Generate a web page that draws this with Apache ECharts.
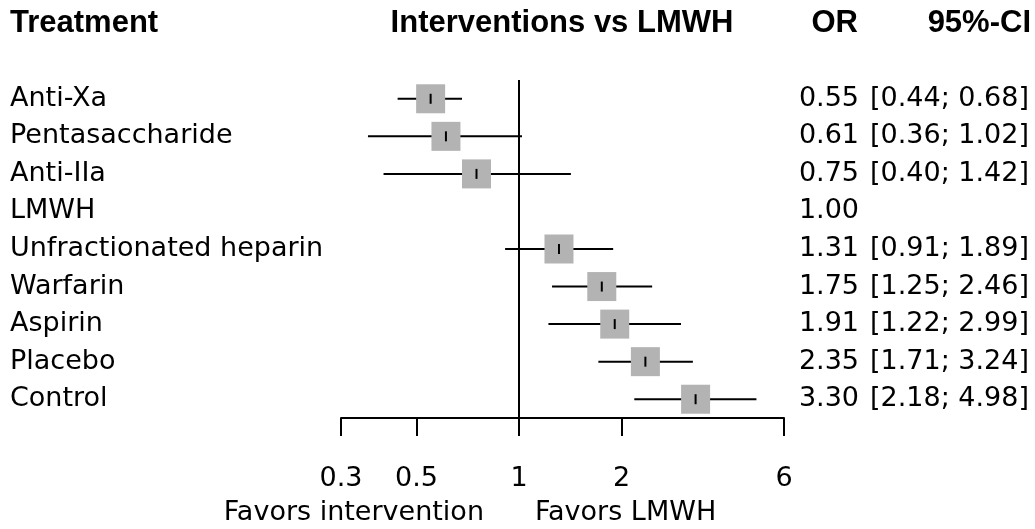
<!DOCTYPE html>
<html>
<head>
<meta charset="utf-8">
<script src="https://cdn.jsdelivr.net/npm/echarts@6/dist/echarts.min.js"></script>
<style>
  html, body { margin: 0; padding: 0; background: #fff; }
  #forest { width: 1035px; height: 529px; }
</style>
</head>
<body>
<div id="forest"></div>
<script>
// treatments, top to bottom
var treatments = ["Anti-Xa", "Pentasaccharide", "Anti-IIa", "LMWH", "Unfractionated heparin",
  "Warfarin", "Aspirin", "Placebo", "Control"];
var oddsRatio = [0.55, 0.61, 0.75, 1.00, 1.31, 1.75, 1.91, 2.35, 3.30];
var ciLower = [0.44, 0.36, 0.40, null, 0.91, 1.25, 1.22, 1.71, 2.18];
var ciUpper = [0.68, 1.02, 1.42, null, 1.89, 2.46, 2.99, 3.24, 4.98];
var tickValues = [0.3, 0.5, 1, 2, 6];

var bodyFont = "DejaVu Sans";
var headFont = "Liberation Sans";
var fs = 27;

// rows with an interval (LMWH is the reference, nothing drawn)
var rows = [];
treatments.forEach(function (t, i) {
  if (ciLower[i] != null) rows.push([i, oddsRatio[i], ciLower[i], ciUpper[i]]);
});

var chart = echarts.init(document.getElementById("forest"), null, { renderer: "canvas" });

var option = {
  backgroundColor: "#fff",
  animation: false,
  grid: { left: 341, right: 251, top: 80, bottom: 111 },
  xAxis: {
    type: "log",
    logBase: 10,
    min: 0.3,
    max: 6,
    axisLine: { show: true, onZero: false, lineStyle: { color: "#000", width: 2 } },
    axisTick: { show: true, customValues: tickValues, length: 18, lineStyle: { color: "#000", width: 2 } },
    axisLabel: {
      customValues: tickValues,
      margin: 47,
      color: "#000",
      fontSize: fs,
      fontFamily: bodyFont,
      formatter: function (v) { return String(Number(Number(v).toPrecision(6))); }
    },
    splitLine: { show: false },
    minorTick: { show: false }
  },
  yAxis: [
    {
      type: "category",
      inverse: true,
      data: treatments,
      axisLine: { show: false },
      axisTick: { show: false },
      axisLabel: { align: "left", margin: 331, color: "#000", fontSize: fs, fontFamily: bodyFont }
    },
    {
      type: "category",
      inverse: true,
      position: "right",
      data: treatments,
      axisLine: { show: false },
      axisTick: { show: false },
      axisLabel: {
        align: "left",
        margin: 15,
        color: "#000",
        fontSize: fs,
        fontFamily: bodyFont,
        formatter: function (v, i) {
          var ci = ciLower[i] == null ? "" :
            "[" + ciLower[i].toFixed(2) + "; " + ciUpper[i].toFixed(2) + "]";
          return "{o|" + oddsRatio[i].toFixed(2) + "}{c|" + ci + "}";
        },
        rich: {
          o: { width: 60, align: "right", fontSize: fs, fontFamily: bodyFont, color: "#000" },
          c: { width: 170, align: "right", fontSize: fs, fontFamily: bodyFont, color: "#000" }
        }
      }
    }
  ],
  graphic: [
    { type: "text", left: 10, top: 8, style: { text: "Treatment", font: "bold 31px " + headFont, fill: "#000" } },
    { type: "text", x: 562, y: 23, style: { text: "Interventions vs LMWH", font: "bold 31px " + headFont, fill: "#000", align: "center", verticalAlign: "middle" } },
    { type: "text", x: 858, y: 23, style: { text: "OR", font: "bold 31px " + headFont, fill: "#000", align: "right", verticalAlign: "middle" } },
    { type: "text", x: 1031, y: 23, style: { text: "95%-CI", font: "bold 31px " + headFont, fill: "#000", align: "right", verticalAlign: "middle" } },
    { type: "text", x: 484, y: 513, style: { text: "Favors intervention", font: fs + "px " + bodyFont, fill: "#000", align: "right", verticalAlign: "middle" } },
    { type: "text", x: 535, y: 513, style: { text: "Favors LMWH", font: fs + "px " + bodyFont, fill: "#000", align: "left", verticalAlign: "middle" } }
  ],
  series: [
    {
      type: "custom",
      clip: false,
      data: rows,
      encode: { x: [1, 2, 3], y: 0 },
      renderItem: function (params, api) {
        var idx = api.value(0);
        var est = api.coord([api.value(1), idx]);
        var lo = api.coord([api.value(2), idx]);
        var hi = api.coord([api.value(3), idx]);
        var s = 29;
        return {
          type: "group",
          children: [
            { type: "line", shape: { x1: lo[0], y1: est[1], x2: hi[0], y2: est[1] }, style: { stroke: "#000", lineWidth: 2 } },
            { type: "rect", shape: { x: est[0] - s / 2, y: est[1] - s / 2, width: s, height: s }, style: { fill: "#b3b3b3" } },
            { type: "line", shape: { x1: est[0], y1: est[1] - 5, x2: est[0], y2: est[1] + 5 }, style: { stroke: "#000", lineWidth: 2 } }
          ]
        };
      },
      markLine: {
        silent: true,
        symbol: "none",
        label: { show: false },
        lineStyle: { color: "#000", width: 2, type: "solid" },
        data: [{ xAxis: 1 }]
      }
    }
  ]
};

chart.setOption(option);
window.addEventListener("resize", function () {
  chart.resize();
});
</script>
</body>
</html>
